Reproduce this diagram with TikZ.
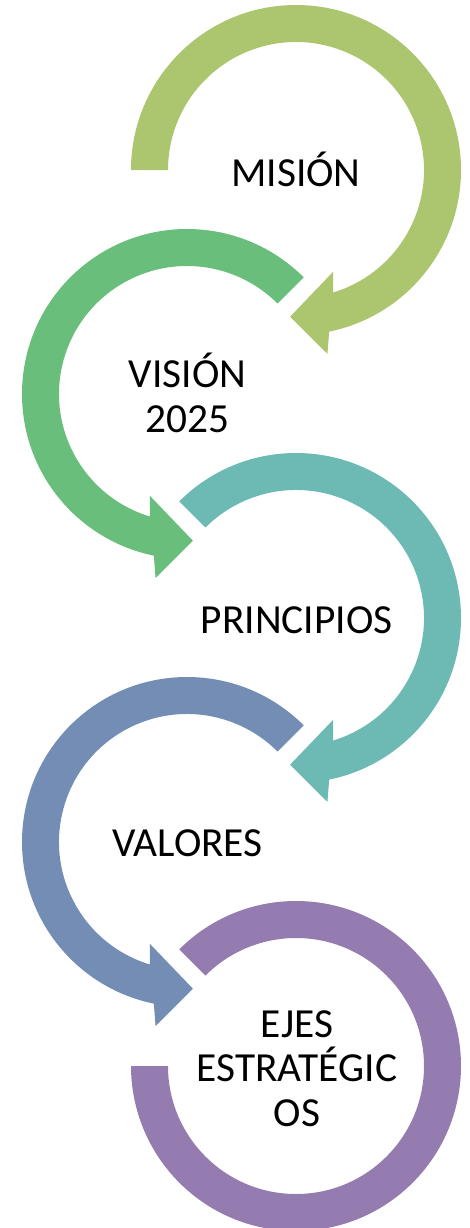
\documentclass[tikz,border=0pt]{standalone}
\usepackage{fontspec}
\setmainfont{Carlito}
\definecolor{cmision}{HTML}{ACC56F}
\definecolor{cvision}{HTML}{6ABE7B}
\definecolor{cprincipios}{HTML}{6DBAB4}
\definecolor{cvalores}{HTML}{738DB5}
\definecolor{cejes}{HTML}{947BB0}
\tikzset{
  % ring with its head at the bottom, running clockwise from #1
  pics/headring/.style 2 args={code={
    \fill[#2] (#1:\Rout) arc[start angle=#1, end angle=-78.4, radius=\Rout]
      -- (-80.3:186.6) -- (-92.3:146.8) -- (-69.9:108.3)
      -- (-73.1:\Rin) arc[start angle=-73.1, end angle=#1, radius=\Rin] -- cycle;
  }},
  label/.style={font=\fontsize{41.5}{45}\selectfont, align=center, inner sep=0pt, anchor=base},
}
\begin{document}
\begin{tikzpicture}[x=1bp, y=1bp]
	\def\Rout{165} \def\Rin{128} % radios
	\useasboundingbox (0,0) rectangle (470,-1228);
	\pic at (296,-170) {headring={180}{cmision}};
	\pic[xscale=-1] at (187,-394) {headring={135}{cvision}};
	\pic at (296,-618) {headring={135}{cprincipios}};
	\pic[xscale=-1] at (187,-842) {headring={135}{cvalores}};
	\fill[cejes] (296,-1066) ++(135:\Rout) arc[start angle=135, end angle=-180, radius=\Rout]
		-- ++(\Rout-\Rin,0) arc[start angle=-180, end angle=135, radius=\Rin] -- cycle;
	% anchor=base sits on the last line
	\node[label] (mision) at (296,-186) {MISIÓN};
	\node[label] (vision) at (187.5,-432) {VISIÓN\\2025};
	\node[label] (principios) at (296.7,-633.3) {PRINCIPIOS};
	\node[label] (valores) at (187.5,-856.7) {VALORES};
	\node[label] (ejes) at (297,-1126.7) {EJES\\ESTRATÉGIC\\OS};
\end{tikzpicture}
\end{document}
